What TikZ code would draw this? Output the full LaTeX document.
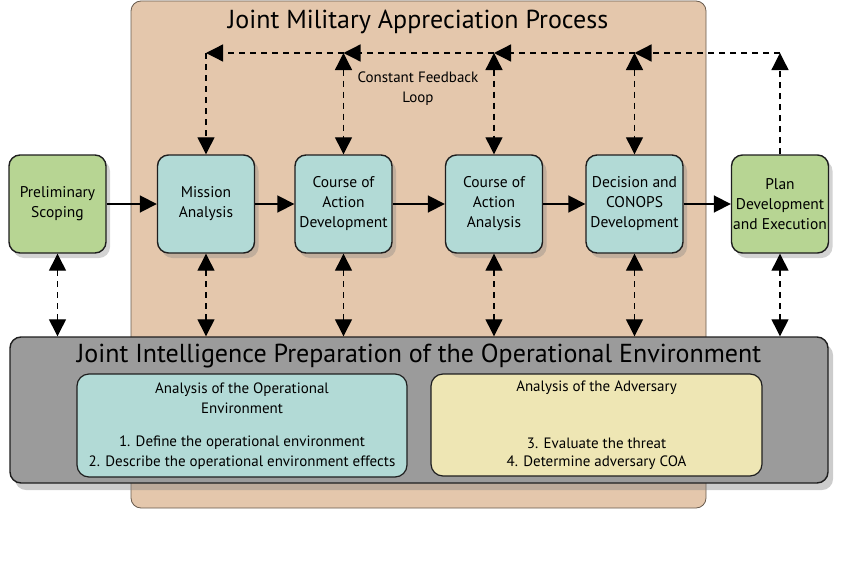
\documentclass[tikz,border=0pt]{standalone}
\usepackage{fontspec}
\setmainfont{PT Sans}
\usetikzlibrary{arrows.meta,shadows}
\definecolor{beige}{RGB}{228,199,172}
\definecolor{teal}{RGB}{178,218,214}
\definecolor{green}{RGB}{183,213,147}
\definecolor{gbox}{RGB}{155,155,155}
\definecolor{ybox}{RGB}{238,230,180}
\definecolor{edge}{RGB}{30,30,30}
\tikzset{
  proc/.style={draw=edge, line width=1.4pt, rounded corners=11pt, minimum width=97pt, minimum height=98pt,
    align=center, font=\fontsize{15.5}{20}\selectfont, inner sep=1pt,
    drop shadow={shadow xshift=4pt, shadow yshift=-5pt, opacity=0.35}},
  tealbox/.style={proc, fill=teal},
  greenbox/.style={proc, fill=green},
  fbline/.style={dashed, dash pattern=on 6pt off 5pt, line width=1.3pt, draw=black},
  tip/.style={-{Triangle[width=17pt,length=17pt]}},
  tips/.style={{Triangle[width=17pt,length=17pt]}-{Triangle[width=17pt,length=17pt]}},
  flow/.style={line width=1.8pt, -{Triangle[width=17pt,length=17pt]}},
  txt/.style={font=\fontsize{15}{20}\selectfont, inner sep=0pt}
}
\begin{document}
\begin{tikzpicture}[x=1pt,y=-1pt]
\useasboundingbox (0,0) rectangle (850,578);
% panel
\node[draw=black!55!beige, line width=0.8pt, fill=beige, rounded corners=10pt, minimum width=575pt, minimum height=507pt, inner sep=0pt] (jmap) at (418.5,254.5) {};
\node[font=\fontsize{26}{30}\selectfont, inner sep=0pt] (jmaptitle) at (418,22) {Joint Military Appreciation Process};
\node[txt, align=center] (loop) at (418,89) {Constant Feedback\\Loop};
% process boxes
\node[greenbox] (prelim) at (57.5,204) {Preliminary\\Scoping};
\node[tealbox] (mission) at (206,204) {Mission\\Analysis};
\node[tealbox] (coad) at (343.5,204) {Course of\\Action\\Development};
\node[tealbox] (coaa) at (494,204) {Course of\\Action\\Analysis};
\node[tealbox] (dec) at (634.5,204) {Decision and\\CONOPS\\Development};
\node[greenbox] (plan) at (780,204) {Plan\\Development\\and Execution};
% flow arrows
\draw[flow] (prelim) -- (mission);
\draw[flow] (mission) -- (coad);
\draw[flow] (coad) -- (coaa);
\draw[flow] (coaa) -- (dec);
\draw[flow] (dec) -- (plan);
% feedback loop
\coordinate (fbM) at (206,53);
\coordinate (fbD) at (343.5,53);
\coordinate (fbA) at (494,53);
\coordinate (fbC) at (634.5,53);
\coordinate (fbP) at (780,53);
\draw[fbline, tip] (plan.north) -- (fbP);
\draw[fbline, tip] (fbP) -- (fbC);
\draw[fbline, tip] (fbC) -- (fbA);
\draw[fbline, tip] (fbA) -- (fbD);
\draw[fbline, tip] (fbD) -- (fbM);
\draw[fbline, tip] (fbM) -- (mission.north);
\draw[fbline, tips] (fbD) -- (coad.north);
\draw[fbline, tips] (fbA) -- (coaa.north);
\draw[fbline, tips] (fbC) -- (dec.north);
% JIPOE
\node[draw=edge, line width=1.4pt, fill=gbox, rounded corners=11pt, minimum width=818pt, minimum height=146pt, inner sep=0pt,
  drop shadow={shadow xshift=5pt, shadow yshift=-7pt, opacity=0.4}] (jipoe) at (419,410) {};
\node[font=\fontsize{26}{30}\selectfont, inner sep=0pt] (jipoetitle) at (419,356) {Joint Intelligence Preparation of the Operational Environment};
\node[draw=edge, line width=1.2pt, fill=teal, rounded corners=12pt, minimum width=330pt, minimum height=103pt, inner sep=0pt] (aoe) at (242,425.5) {};
\node[draw=edge, line width=1.2pt, fill=ybox, rounded corners=12pt, minimum width=331pt, minimum height=102pt, inner sep=0pt] (aoa) at (596.5,425) {};
\node[txt, align=center] (aoet) at (242,398) {Analysis of the Operational\\Environment};
\node[txt] (aoe1) at (242,443) {1. Define the operational environment};
\node[txt] (aoe2) at (242,463) {2. Describe the operational environment effects};
\node[txt] (aoat) at (596.5,388) {Analysis of the Adversary};
\node[txt] (aoa1) at (596.5,443) {3. Evaluate the threat};
\node[txt] (aoa2) at (596.5,463) {4. Determine adversary COA};
% vertical links to JIPOE
\foreach \b in {prelim,mission,coad,coaa,dec,plan}
  \draw[fbline, tips] (\b.south) -- (\b.south |- jipoe.north);
\end{tikzpicture}
\end{document}
